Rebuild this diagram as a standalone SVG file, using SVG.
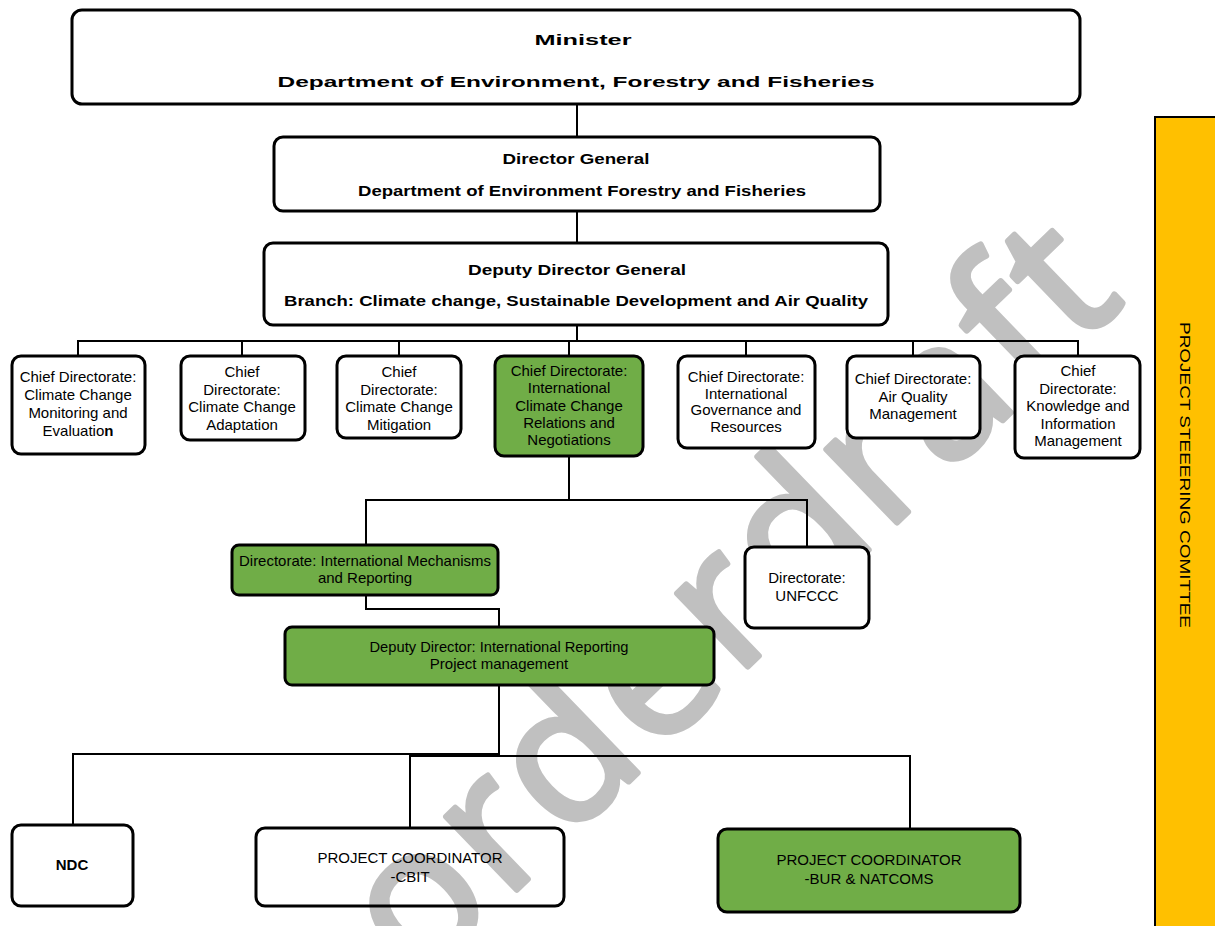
<svg xmlns="http://www.w3.org/2000/svg" width="1215" height="926" viewBox="0 0 1215 926">
<style>
.box{stroke:#000;stroke-width:3}
.w{fill:#fff}
.g{fill:#70AD47}
.t{font-family:"Liberation Sans",Arial,sans-serif;font-size:15px;text-anchor:middle;fill:#000}
.b{font-weight:bold}
.c{fill:none;stroke:#000;stroke-width:2}
.wm{font-family:"Open Sans","Liberation Sans",sans-serif;font-weight:400;font-size:190px;fill:#c0c0c0;stroke:#c0c0c0;stroke-width:6;stroke-linejoin:round}
</style>
<rect x="0" y="0" width="1215" height="926" fill="#fff"/>
<text class="wm" x="0" y="0" transform="translate(418,985) rotate(-44)" textLength="985" lengthAdjust="spacing">orderdraft</text>

<g id="connectors">
<path class="c" d="M577 104V137"/>
<path class="c" d="M577 211V243"/>
<path class="c" d="M577 325V341"/>
<path class="c" d="M78 356V341H1078V356"/>
<path class="c" d="M242 341V356M399 341V356M569 341V356M746 341V356M913 341V356"/>
<path class="c" d="M569 456V500"/>
<path class="c" d="M366 545V500H807V547"/>
<path class="c" d="M366 595V609H499V627"/>
<path class="c" d="M499 685V756"/>
<path class="c" d="M73 825V754H499"/>
<path class="c" d="M410 828V756H910V829"/>
</g>

<g id="minister">
<rect class="box w" x="72" y="10" width="1008" height="94" rx="10"/>
<text class="t b" x="583" y="44.5" font-size="24" textLength="97" lengthAdjust="spacingAndGlyphs">Minister</text>
<text class="t b" x="576" y="86.5" font-size="24" textLength="597" lengthAdjust="spacingAndGlyphs">Department of Environment, Forestry and Fisheries</text>
</g>

<g id="director-general">
<rect class="box w" x="274" y="137" width="606" height="74" rx="9"/>
<text class="t b" x="576" y="163.5" font-size="18" textLength="147" lengthAdjust="spacingAndGlyphs">Director General</text>
<text class="t b" x="582" y="195.5" font-size="18" textLength="448" lengthAdjust="spacingAndGlyphs">Department of Environment Forestry and Fisheries</text>
</g>

<g id="deputy-director-general">
<rect class="box w" x="264" y="243" width="624" height="82" rx="9"/>
<text class="t b" x="577" y="275" font-size="19" textLength="218" lengthAdjust="spacingAndGlyphs">Deputy Director General</text>
<text class="t b" x="576" y="306" font-size="19" textLength="584" lengthAdjust="spacingAndGlyphs">Branch: Climate change, Sustainable Development and Air Quality</text>
</g>

<g id="cd-monitoring">
<rect class="box w" x="12" y="356" width="133" height="98" rx="9"/>
<text class="t" x="78" y="382">Chief Directorate:</text>
<text class="t" x="78" y="400">Climate Change</text>
<text class="t" x="78" y="418">Monitoring and</text>
<text class="t" x="78" y="436">Evaluatio<tspan font-weight="bold">n</tspan></text>
</g>

<g id="cd-adaptation">
<rect class="box w" x="181" y="356" width="124" height="84" rx="9"/>
<text class="t" x="242" y="377">Chief</text>
<text class="t" x="242" y="394.5">Directorate:</text>
<text class="t" x="242" y="412">Climate Change</text>
<text class="t" x="242" y="429.5">Adaptation</text>
</g>

<g id="cd-mitigation">
<rect class="box w" x="337" y="356" width="124" height="82" rx="9"/>
<text class="t" x="399" y="377">Chief</text>
<text class="t" x="399" y="394.5">Directorate:</text>
<text class="t" x="399" y="412">Climate Change</text>
<text class="t" x="399" y="429.5">Mitigation</text>
</g>

<g id="cd-international-relations">
<rect class="box g" x="495" y="356" width="148" height="100" rx="9"/>
<text class="t" x="569" y="376">Chief Directorate:</text>
<text class="t" x="569" y="393">International</text>
<text class="t" x="569" y="410.5">Climate Change</text>
<text class="t" x="569" y="428">Relations and</text>
<text class="t" x="569" y="445">Negotiations</text>
</g>

<g id="cd-governance">
<rect class="box w" x="678" y="356" width="137" height="92" rx="9"/>
<text class="t" x="746" y="382">Chief Directorate:</text>
<text class="t" x="746" y="398.5">International</text>
<text class="t" x="746" y="415">Governance and</text>
<text class="t" x="746" y="432">Resources</text>
</g>

<g id="cd-air-quality">
<rect class="box w" x="847" y="356" width="133" height="82" rx="9"/>
<text class="t" x="913" y="384">Chief Directorate:</text>
<text class="t" x="913" y="401.5">Air Quality</text>
<text class="t" x="913" y="419">Management</text>
</g>

<g id="cd-knowledge">
<rect class="box w" x="1015" y="356" width="125" height="102" rx="9"/>
<text class="t" x="1078" y="376">Chief</text>
<text class="t" x="1078" y="393.5">Directorate:</text>
<text class="t" x="1078" y="411">Knowledge and</text>
<text class="t" x="1078" y="428.5">Information</text>
<text class="t" x="1078" y="446">Management</text>
</g>

<g id="dir-mechanisms">
<rect class="box g" x="232" y="545" width="266" height="50" rx="7"/>
<text class="t" x="365" y="566" textLength="252" lengthAdjust="spacingAndGlyphs">Directorate: International Mechanisms</text>
<text class="t" x="365" y="583">and Reporting</text>
</g>

<g id="dir-unfccc">
<rect class="box w" x="745" y="547" width="124" height="81" rx="9"/>
<text class="t" x="807" y="583" font-size="14.5">Directorate:</text>
<text class="t" x="807" y="601" font-size="14.5">UNFCCC</text>
</g>

<g id="deputy-director">
<rect class="box g" x="285" y="627" width="429" height="58" rx="7"/>
<text class="t" x="499" y="652" font-size="14.5" textLength="259" lengthAdjust="spacingAndGlyphs">Deputy Director: International Reporting</text>
<text class="t" x="499" y="669" font-size="14.5">Project management</text>
</g>

<g id="ndc">
<rect class="box w" x="12" y="825" width="121" height="81" rx="9"/>
<text class="t b" x="72" y="870" font-size="13.5">NDC</text>
</g>

<g id="coordinator-cbit">
<rect class="box" fill="none" x="256" y="828" width="308" height="78" rx="9"/>
<text class="t" x="410" y="862.5" font-size="12.5">PROJECT COORDINATOR</text>
<text class="t" x="410" y="881.5" font-size="12.5">-CBIT</text>
</g>

<g id="coordinator-bur">
<rect class="box g" x="718" y="829" width="302" height="83" rx="9"/>
<text class="t" x="869" y="864.5" font-size="12.5">PROJECT COORDINATOR</text>
<text class="t" x="869" y="883.5" font-size="12.5">-BUR &amp; NATCOMS</text>
</g>

<g id="steering-committee">
<rect x="1155" y="117" width="80" height="830" fill="#FFC000" stroke="#000" stroke-width="2"/>
<text class="t" x="0" y="0" font-size="19" dominant-baseline="central" transform="translate(1185,475) rotate(90)" textLength="306" lengthAdjust="spacingAndGlyphs">PROJECT STEEERING COMITTEE</text>
</g>
</svg>
